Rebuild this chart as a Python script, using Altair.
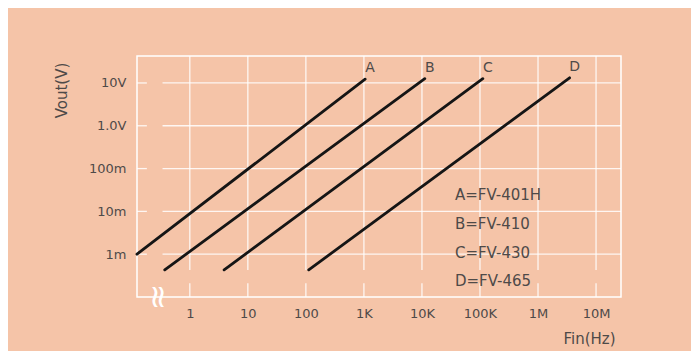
import altair as alt
import pandas as pd

# ---- data ----
series = ["A", "B", "C", "D"]
x_start = [0.123, 0.37, 3.9, 112]
y_start = [0.001, 0.00043, 0.00043, 0.00043]
x_end = [1050, 11200, 112000, 3.5e6]
y_end = [12.3, 12.6, 12.6, 13.2]

legend_text = ["A=FV-401H", "B=FV-410", "C=FV-430", "D=FV-465"]
legend_x = [37000, 37000, 37000, 37000]
legend_y = [0.024, 0.0051, 0.00108, 0.00024]

x_ticks = [1, 10, 100, 1e3, 1e4, 1e5, 1e6, 1e7]
x_labels = ["1", "10", "100", "1K", "10K", "100K", "1M", "10M"]
y_ticks = [1e-3, 1e-2, 1e-1, 1, 10]
y_labels = ["1m", "10m", "100m", "1.0V", "10V"]

x_domain = [10 ** -0.91, 10 ** 7.43]
y_domain = [10 ** -4.0, 10 ** 1.63]
# axis-break gaps in the grid
x_gap = [10 ** -0.74, 10 ** -0.47]
y_gap = [10 ** -3.68, 10 ** -3.37]
break_mark = [(10 ** -0.5, 10 ** -4.0)]

BG = "#f5c4a8"
TXT = "#4e4a48"
FONT = "DejaVu Sans"


def label_expr(vals, labels):
    import math
    expr = "''"
    for v, l in reversed(list(zip(vals, labels))):
        k = round(math.log10(v))
        expr = f"(round(log(datum.value)/LN10) == {k} ? '{l}' : {expr})"
    return expr


xs = alt.Scale(type="log", domain=x_domain, nice=False, zero=False)
ys = alt.Scale(type="log", domain=y_domain, nice=False, zero=False)

# grid segments
vgrid = []
for v in x_ticks:
    vgrid.append({"x": v, "y": y_domain[0], "y2": y_gap[0]})
    vgrid.append({"x": v, "y": y_gap[1], "y2": y_domain[1]})
hgrid = []
for v in y_ticks:
    hgrid.append({"y": v, "x": x_domain[0], "x2": x_gap[0]})
    hgrid.append({"y": v, "x": x_gap[1], "x2": x_domain[1]})

vg = alt.Chart(pd.DataFrame(vgrid)).mark_rule(color="white", strokeWidth=1.3, opacity=0.85).encode(
    x=alt.X("x:Q", scale=xs,
            axis=alt.Axis(values=x_ticks, labelExpr=label_expr(x_ticks, x_labels), grid=False,
                          ticks=False, domain=False, labelPadding=10, labelFontSize=13,
                          labelFont=FONT, labelColor=TXT, labelBaseline="top", labelFlush=False,
                          title="Fin(Hz)", titleFont=FONT, titleFontSize=15, titleFontWeight="normal",
                          titleColor=TXT, titleX=452, titleY=41, titleBaseline="middle",
                          titleAlign="center", titleAnchor="start")),
    y=alt.Y("y:Q", scale=ys,
            axis=alt.Axis(values=y_ticks, labelExpr=label_expr(y_ticks, y_labels), grid=False,
                          ticks=False, domain=False, labelPadding=11, labelFontSize=13,
                          labelFont=FONT, labelColor=TXT, labelBaseline="middle",
                          title="Vout(V)", titleFont=FONT, titleFontSize=15, titleFontWeight="normal",
                          titleColor=TXT, titleX=-76, titleY=34, titleBaseline="middle",
                          titleAlign="center", titleAnchor="start", titleAngle=270)),
    y2="y2:Q",
)

hg = alt.Chart(pd.DataFrame(hgrid)).mark_rule(color="white", strokeWidth=1.3, opacity=0.85).encode(
    x=alt.X("x:Q", scale=xs), x2="x2:Q", y=alt.Y("y:Q", scale=ys)
)

lines_df = pd.DataFrame({"s": series, "x": x_start, "y": y_start, "x2": x_end, "y2": y_end})
lines = alt.Chart(lines_df).mark_rule(color="#151515", strokeWidth=2.8, strokeCap="round").encode(
    x=alt.X("x:Q", scale=xs), y=alt.Y("y:Q", scale=ys), x2="x2:Q", y2="y2:Q"
)

letters = alt.Chart(lines_df).mark_text(
    font=FONT, fontSize=14, color=TXT, dx=5, dy=-11, align="center", baseline="middle"
).encode(x=alt.X("x2:Q", scale=xs), y=alt.Y("y2:Q", scale=ys), text="s:N")

leg_df = pd.DataFrame({"t": legend_text, "x": legend_x, "y": legend_y})
legend = alt.Chart(leg_df).mark_text(
    font=FONT, fontSize=15, color=TXT, align="left", baseline="middle"
).encode(x=alt.X("x:Q", scale=xs), y=alt.Y("y:Q", scale=ys), text="t:N")

brk_df = pd.DataFrame(break_mark, columns=["x", "y"])
brk = alt.Chart(brk_df).mark_text(
    text="≈", font=FONT, fontSize=32, color="white", angle=90, dy=3, align="center", baseline="middle"
).encode(x=alt.X("x:Q", scale=xs), y=alt.Y("y:Q", scale=ys))

chart = alt.layer(vg, hg, lines, letters, legend, brk).properties(
    width=484, height=241,
    autosize=alt.AutoSizeParams(type="none"),
    padding={"left": 129, "top": 48, "right": 70, "bottom": 54},
    background=BG,
).configure_view(stroke="white", strokeWidth=1.5, fill=None)

chart.save("out.html", embed_options={"renderer": "svg", "actions": False})
